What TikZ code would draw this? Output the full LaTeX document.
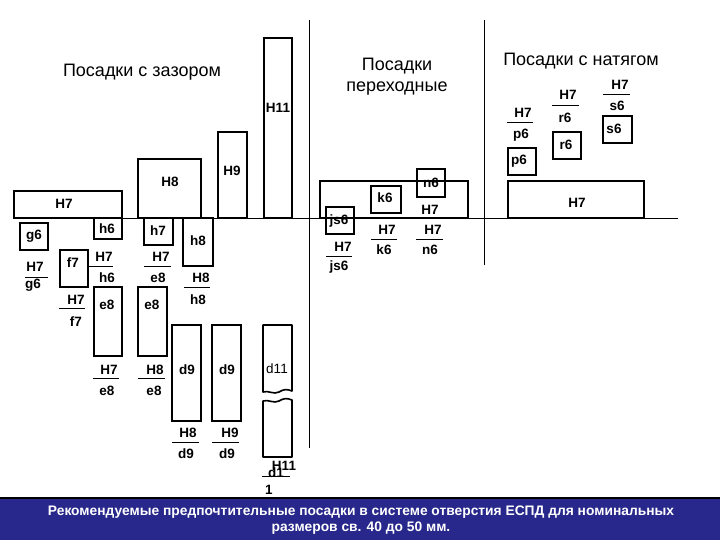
\documentclass[tikz,border=0pt]{standalone}
\usepackage{fontspec}
\setmainfont{Liberation Sans}
\setsansfont{Liberation Sans}
\definecolor{bannerblue}{RGB}{40,40,140}
\begin{document}
\begin{tikzpicture}[x=1pt,y=-1pt,
  box/.style={draw=black,line width=1.6pt},
  thinline/.style={draw=black,line width=0.9pt},
  fracline/.style={draw=black,line width=0.8pt},
  lab/.style={inner sep=0,font=\bfseries\fontsize{13.5}{15}\selectfont},
  title/.style={inner sep=0,font=\fontsize{18}{21}\selectfont,align=center},
  banner/.style={inner sep=0,text=white,align=center,font=\bfseries\fontsize{13.8}{16}\selectfont}]
\useasboundingbox (0,0) rectangle (720,540);
% axes
\draw[thinline] (14,218) -- (678,218);
\draw[thinline] (309,20) -- (309,448);
\draw[thinline] (484,20) -- (484,265);
% titles
\node[title] (t1) at (142,72) {Посадки с зазором};
\node[title] (t2) at (397,77) {Посадки\\переходные};
\node[title] (t3) at (581,61) {Посадки с натягом};
% clearance boxes
\draw[box] (14,191) rectangle (122,218);
\draw[box] (20,223) rectangle (48,250);
\draw[box] (94,218) rectangle (122,239);
\draw[box] (60,250) rectangle (88,287);
\draw[box] (94,287) rectangle (122,356);
\draw[box] (138,159) rectangle (201,218);
\draw[box] (144,218) rectangle (173,245);
\draw[box] (183,218) rectangle (213,266);
\draw[box] (138,287) rectangle (167,356);
\draw[box] (218,132) rectangle (247,218);
\draw[box] (264,38) rectangle (292,218);
\draw[box] (172,325) rectangle (201,421);
\draw[box] (212,325) rectangle (241,421);
% d11 with break
\draw[box,line join=round] (263,392) -- (263,325) -- (292,325) -- (292,391)
  .. controls (287,389) and (284,389) .. (279,392)
  .. controls (274,395) and (268,390) .. cycle;
\draw[box,line join=round] (263,401) -- (263,457) -- (292,457) -- (292,400)
  .. controls (287,398) and (284,398) .. (279,401)
  .. controls (274,404) and (268,399) .. cycle;
% clearance labels
\node[lab] (cH7) at (64,204) {H7};
\node[lab] (cg6) at (34,236) {g6};
\node[lab] (ch6) at (107,229) {h6};
\node[lab] (cf7) at (73,263) {f7};
\node[lab] (ce8a) at (107,305) {e8};
\node[lab] (cH8) at (170,182) {H8};
\node[lab] (ch7) at (158,231) {h7};
\node[lab] (ch8) at (198,241) {h8};
\node[lab] (ce8b) at (152,305) {e8};
\node[lab] (cH9) at (232,171) {H9};
\node[lab] (cH11) at (278,108) {H11};
\node[lab] (cd9a) at (187,370) {d9};
\node[lab] (cd9b) at (227,370) {d9};
\node[lab,font=\fontsize{13.5}{15}\selectfont] (cd11) at (277,369) {d11};
% clearance fractions
\node[lab] (fa1) at (35,267) {H7}; \draw[fracline] (25,277) -- (48,277); \node[lab] (fa2) at (33,285) {g6};
\node[lab] (fb1) at (104,257) {H7}; \draw[fracline] (88,266) -- (113,266); \node[lab] (fb2) at (107,278) {h6};
\node[lab] (fc1) at (76,300) {H7}; \draw[fracline] (59,308) -- (85,308); \node[lab] (fc2) at (76,322) {f7};
\node[lab] (fd1) at (161,257) {H7}; \draw[fracline] (144,266) -- (171,266); \node[lab] (fd2) at (158,278) {e8};
\node[lab] (fe1) at (201,278) {H8}; \draw[fracline] (184,287) -- (210,287); \node[lab] (fe2) at (198,300) {h8};
\node[lab] (ff1) at (109,370) {H7}; \draw[fracline] (93,378) -- (119,378); \node[lab] (ff2) at (107,391) {e8};
\node[lab] (fg1) at (155,370) {H8}; \draw[fracline] (138,378) -- (165,378); \node[lab] (fg2) at (154,391) {e8};
\node[lab] (fh1) at (188,433) {H8}; \draw[fracline] (172,442) -- (199,442); \node[lab] (fh2) at (186,454) {d9};
\node[lab] (fi1) at (230,433) {H9}; \draw[fracline] (212,442) -- (239,442); \node[lab] (fi2) at (227,454) {d9};
\draw[fracline] (262,476) -- (290,476);
\node[lab] (fj1) at (284,466) {H11};
\node[lab] (fj2) at (276,473) {d1};
\node[lab] (fj3) at (269,490) {1};
% transition
\draw[box] (320,181) rectangle (468,218);
\draw[box] (326,207) rectangle (354,234);
\draw[box] (371,186) rectangle (401,213);
\draw[box] (417,169) rectangle (445,197);
\node[lab] (tH7) at (430,210) {H7};
\node[lab] (tjs6) at (339,221) {js6};
\node[lab] (tk6) at (385,198) {k6};
\node[lab] (tn6) at (431,183) {n6};
\node[lab] (ta1) at (343,247) {H7}; \draw[fracline] (326,256) -- (352,256); \node[lab] (ta2) at (339,267) {js6};
\node[lab] (tb1) at (387,230) {H7}; \draw[fracline] (371,239) -- (397,239); \node[lab] (tb2) at (384,250) {k6};
\node[lab] (tc1) at (433,230) {H7}; \draw[fracline] (416,239) -- (443,239); \node[lab] (tc2) at (430,250) {n6};
% interference
\draw[box] (508,181) rectangle (644,218);
\draw[box] (508,148) rectangle (536,175);
\draw[box] (553,132) rectangle (581,159);
\draw[box] (603,116) rectangle (632,143);
\node[lab] (iH7) at (577,203) {H7};
\node[lab] (ip6) at (519,161) {p6};
\node[lab] (ir6) at (566,145) {r6};
\node[lab] (is6) at (614,129) {s6};
\node[lab] (ia1) at (523,113) {H7}; \draw[fracline] (507,122) -- (533,122); \node[lab] (ia2) at (521,135) {p6};
\node[lab] (ib1) at (568,95) {H7}; \draw[fracline] (552,105) -- (579,105); \node[lab] (ib2) at (565,118) {r6};
\node[lab] (ic1) at (620,85) {H7}; \draw[fracline] (603,94) -- (630,94); \node[lab] (ic2) at (617,106) {s6};
% banner
\fill[bannerblue] (0,498) rectangle (720,540);
\draw[line width=2pt] (0,498) -- (720,498);
\node[banner] (bn) at (361,520) {Рекомендуемые предпочтительные посадки в системе отверстия ЕСПД для номинальных\\размеров св. 40 до 50 мм.};
\end{tikzpicture}
\end{document}
